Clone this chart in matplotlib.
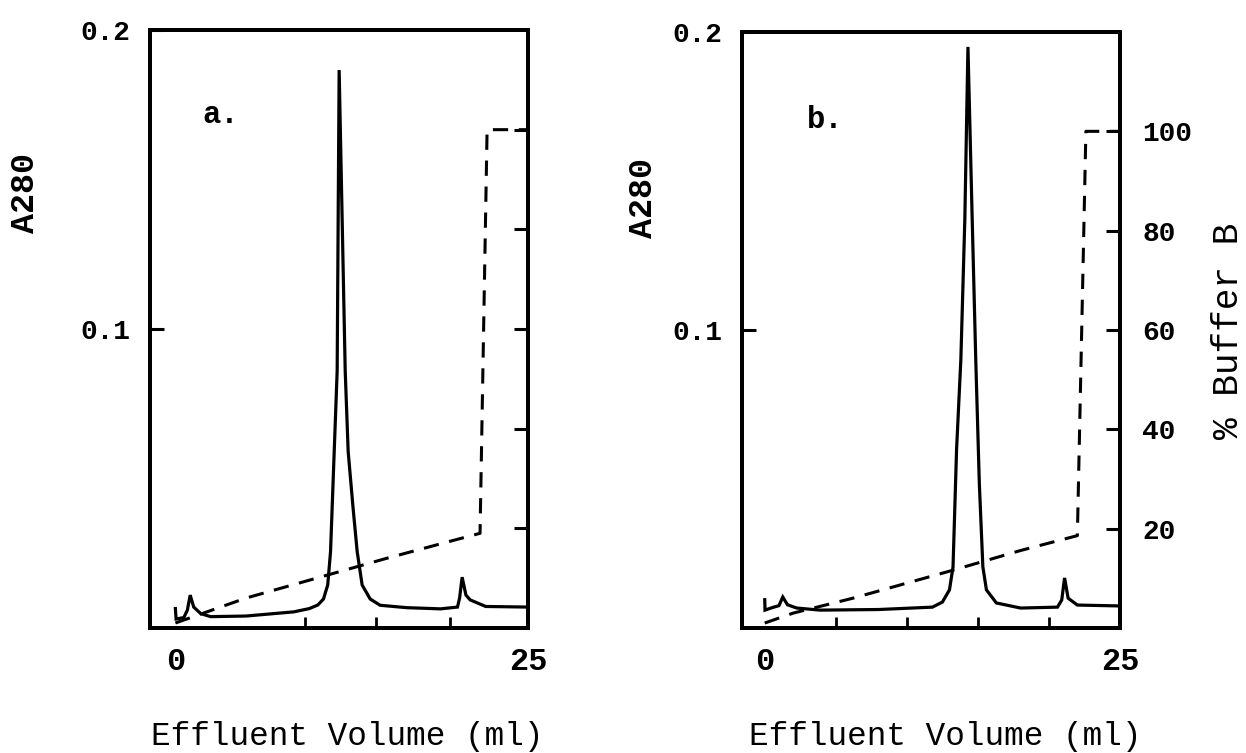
import matplotlib
matplotlib.use("Agg")
import matplotlib.pyplot as plt
from matplotlib.ticker import FixedLocator

plt.rcParams['font.family'] = ['Liberation Mono', 'DejaVu Sans Mono']

# ---- data -------------------------------------------------------------
# Panel a: absorbance trace
a_vol = [0, 0.05, 0.6, 0.85, 1.05, 1.3, 1.8, 2.5, 5, 8.4, 9.5, 10.1, 10.5, 10.8,
         11.0, 11.26, 11.47, 11.61, 12.04, 12.25, 12.6, 12.89, 13.24, 13.81, 14.52,
         16.4, 18.8, 20.0, 20.15, 20.33, 20.6, 20.9, 22.0, 25.0]
a_abs = [0.0065, 0.003, 0.0035, 0.006, 0.011, 0.007, 0.0048, 0.0038, 0.0040, 0.0054,
         0.0065, 0.0077, 0.0097, 0.0144, 0.0255, 0.059, 0.086, 0.1866, 0.086, 0.059,
         0.040, 0.0255, 0.0144, 0.0097, 0.0076, 0.0068, 0.0064, 0.0070, 0.010, 0.017,
         0.0110, 0.0094, 0.0072, 0.0070]
# Panel a: buffer B gradient (%)
a_grad_vol = [0, 3.4, 5, 10, 15, 20, 21.6, 22.1, 25]
a_grad_pct = [1, 4.4, 6, 10, 14, 17.8, 19, 100, 100]

# Panel b: absorbance trace
b_vol = [0, 0.02, 0.5, 1.0, 1.27, 1.6, 2.25, 3.9, 8, 11.8, 12.5, 13.0, 13.25, 13.5,
         13.8, 14.08, 14.3, 14.6, 14.85, 15.1, 15.35, 15.6, 16.3, 18.0, 20.6, 20.9,
         21.1, 21.35, 22.0, 25.0]
b_abs = [0.0095, 0.006, 0.0068, 0.0075, 0.0104, 0.0078, 0.0067, 0.006, 0.0062, 0.007,
         0.0087, 0.0128, 0.0205, 0.06, 0.09, 0.137, 0.195, 0.137, 0.09, 0.0486,
         0.0205, 0.0128, 0.0084, 0.0067, 0.007, 0.0094, 0.0168, 0.010, 0.0077, 0.0074]
# Panel b: buffer B gradient (%)
b_grad_vol = [0, 2, 6.2, 13.2, 18, 22.0, 22.6, 25]
b_grad_pct = [1, 3, 6, 11.6, 15.6, 18.6, 100, 100]

y_ticks = [0.1, 0.2]
y_tick_labels = ['0.1', '0.2']
x_tick_labels = ['0', '25']
pct_ticks = [20, 40, 60, 80, 100]

# ---- figure -------------------------------------------------------------
W, H = 1246, 753
fig = plt.figure(figsize=(W / 100, H / 100), dpi=100)


def px(x0, y0, x1, y1):
    return [x0 / W, 1 - y1 / H, (x1 - x0) / W, (y1 - y0) / H]


panels = [
    dict(rect=px(150, 30, 528, 628), xlim=(-1.8, 25), vol=a_vol, ab=a_abs,
         gv=a_grad_vol, gp=a_grad_pct, minor=[9.2, 14.2, 19.5], tag='a.',
         tagpos=(221, 115), right_labels=False,
         ylab_pos=(25, 193), xlab_pos=(347, 737)),
    dict(rect=px(742, 32, 1120, 628), xlim=(-1.6, 25), vol=b_vol, ab=b_abs,
         gv=b_grad_vol, gp=b_grad_pct, minor=[5, 10, 15, 20], tag='b.',
         tagpos=(825, 120), right_labels=True,
         ylab_pos=(643, 198), xlab_pos=(945, 737)),
]

lw_spine = 2.8
for p in panels:
    ax = fig.add_axes(p['rect'])
    ax.plot(p['vol'], p['ab'], color='black', lw=2.3, solid_joinstyle='miter')
    ax.set_xlim(*p['xlim'])
    ax.set_ylim(0, 0.2)
    for s in ax.spines.values():
        s.set_linewidth(lw_spine)

    ax.set_xticks([0, 25])
    ax.set_xticklabels(x_tick_labels, fontsize=23, fontweight='bold')
    ax.xaxis.set_minor_locator(FixedLocator(p['minor']))
    ax.tick_params(axis='x', which='major', length=0, pad=14)
    ax.tick_params(axis='x', which='minor', direction='in', length=8, width=2)

    ax.set_yticks(y_ticks)
    ax.set_yticklabels(y_tick_labels, fontsize=20, fontweight='bold')
    ax.tick_params(axis='y', direction='in', length=10, width=2.2, pad=14)

    fig.text(p['tagpos'][0] / W, 1 - p['tagpos'][1] / H, p['tag'], fontsize=22,
             fontweight='bold', ha='center', va='center')

    ax2 = ax.twinx()
    ax2.set_ylim(0, 120)
    ax2.plot(p['gv'], p['gp'], color='black', lw=2.2, dashes=(5, 3.5))
    for s in ax2.spines.values():
        s.set_linewidth(lw_spine)
    ax2.set_yticks(pct_ticks)
    ax2.tick_params(axis='y', direction='in', length=10, width=2.2, pad=16,
                    labelsize=20)
    for lab in ax2.get_yticklabels():
        lab.set_fontweight('bold')
    if not p['right_labels']:
        ax2.set_yticklabels([])

    fig.text(p['ylab_pos'][0] / W, 1 - p['ylab_pos'][1] / H, 'A280', rotation=90,
             fontsize=24, fontweight='bold', ha='center', va='center')
    fig.text(p['xlab_pos'][0] / W, 1 - p['xlab_pos'][1] / H, 'Effluent Volume (ml)',
             fontsize=23.5, ha='center', va='center')

fig.text(1228 / W, 1 - 331 / H, '% Buffer B', rotation=90, fontsize=26,
         ha='center', va='center')

fig.savefig('out.png', dpi=100)
